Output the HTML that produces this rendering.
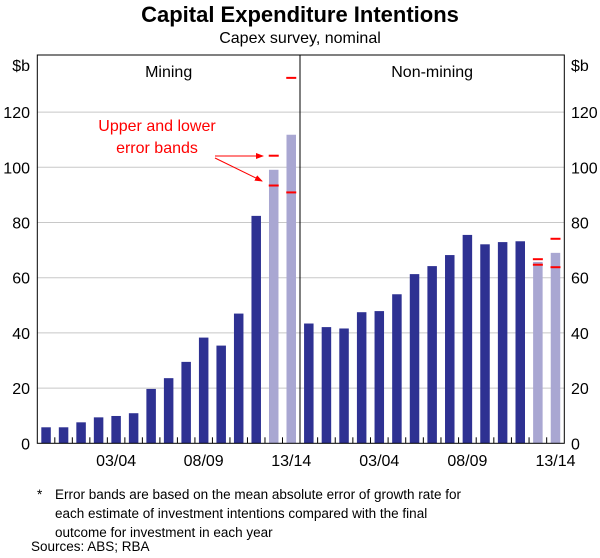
<!DOCTYPE html>
<html><head><meta charset="utf-8"><style>
body{margin:0;background:#fff;}
svg text{font-family:"Liberation Sans",Arial,sans-serif;}
</style></head><body>
<svg width="600" height="553" viewBox="0 0 600 553">
<text x="300" y="22" text-anchor="middle" font-size="22" font-weight="bold">Capital Expenditure Intentions</text>
<text x="300" y="43" text-anchor="middle" font-size="16">Capex survey, nominal</text>
<g id="grid"></g>
<g id="bars"></g>
<g id="frame"></g>
<g id="labels"></g>
<text x="157" y="131" text-anchor="middle" font-size="16" fill="#ff0000">Upper and lower</text>
<text x="157" y="153" text-anchor="middle" font-size="16" fill="#ff0000">error bands</text>
<defs><marker id="ah" markerWidth="8" markerHeight="6" refX="7" refY="3" orient="auto"><path d="M0,0 L8,3 L0,6 Z" fill="#ff0000"/></marker></defs>
<line x1="215" y1="156" x2="263" y2="156" stroke="#ff0000" stroke-width="1" marker-end="url(#ah)"/>
<line x1="215" y1="158" x2="262" y2="181" stroke="#ff0000" stroke-width="1" marker-end="url(#ah)"/>
<text x="37" y="499" font-size="13.5">*</text>
<text x="55" y="499" font-size="13.5">Error bands are based on the mean absolute error of growth rate for</text>
<text x="55" y="518" font-size="13.5">each estimate of investment intentions compared with the final</text>
<text x="55" y="537" font-size="13.5">outcome for investment in each year</text>
<text x="31" y="551" font-size="13.5">Sources: ABS; RBA</text>
</svg>
<script>
const yTicks=[0,20,40,60,80,100,120];
const xTickLabels=["03/04","08/09","13/14"];
const xTickIndex=[4,9,14];
const miningValues=[5.8,5.8,7.6,9.4,9.9,10.9,19.7,23.6,29.5,38.3,35.4,47.0,82.4,99.1,111.8];
const miningForecast=[false,false,false,false,false,false,false,false,false,false,false,false,false,true,true];
const miningUpper=[null,null,null,null,null,null,null,null,null,null,null,null,null,104.2,132.4];
const miningLower=[null,null,null,null,null,null,null,null,null,null,null,null,null,93.4,90.9];
const nonMiningValues=[43.4,42.1,41.6,47.5,47.9,54.0,61.3,64.2,68.2,75.5,72.1,72.9,73.2,65.7,69.0];
const nonMiningForecast=[false,false,false,false,false,false,false,false,false,false,false,false,false,true,true];
const nonMiningUpper=[null,null,null,null,null,null,null,null,null,null,null,null,null,66.7,74.1];
const nonMiningLower=[null,null,null,null,null,null,null,null,null,null,null,null,null,64.7,63.8];

const NS="http://www.w3.org/2000/svg";
const X0=37.3,XM=300,X1=564.3,Y0=443.3,YT=55,PX=2.76;
const y=v=>Y0-v*PX;
function mk(tag,attrs,parent,txt){const e=document.createElementNS(NS,tag);for(const k in attrs)e.setAttribute(k,attrs[k]);if(txt!=null)e.textContent=txt;document.getElementById(parent).appendChild(e);return e;}
yTicks.forEach(t=>{if(t>0){const g=mk('line',{x1:X0,x2:X1,y1:y(t),y2:y(t),stroke:'#c8c8c8','stroke-width':1},'grid');

}
const l=mk('text',{x:30,y:y(t)+6,'text-anchor':'end','font-size':16},'labels',String(t));


const r=mk('text',{x:571,y:y(t)+6,'text-anchor':'start','font-size':16},'labels',String(t));

});
const u1=mk('text',{x:30,y:71,'text-anchor':'end','font-size':16},'labels','$b');


const u2=mk('text',{x:571,y:71,'text-anchor':'start','font-size':16},'labels','$b');


function panel(px0,px1,vals,fc,up,lo,name,title){
 const n=vals.length,step=(px1-px0)/n,bw=9.5;
 vals.forEach((v,i)=>{const cx=px0+step*(i+0.5);
  const b=mk('rect',{x:cx-bw/2,y:y(v),width:bw,height:v*PX,fill:fc[i]?'#a9a7d2':'#2e3192'},'bars');
  
  
  if(up[i]!=null){const e=mk('line',{x1:cx-5,x2:cx+5,y1:y(up[i]),y2:y(up[i]),stroke:'#ff0000','stroke-width':2},'bars');
   
   }
  if(lo[i]!=null){const e=mk('line',{x1:cx-5,x2:cx+5,y1:y(lo[i]),y2:y(lo[i]),stroke:'#ff0000','stroke-width':2},'bars');
   
   }
  if(i>0){const t=mk('line',{x1:px0+step*i,x2:px0+step*i,y1:Y0,y2:Y0-6,stroke:'#000','stroke-width':1},'frame');
   
   }
 });
 xTickIndex.forEach((ix,j)=>{const l=mk('text',{x:px0+step*(ix+0.5),y:466,'text-anchor':'middle','font-size':16},'labels',xTickLabels[j]);
  
  });
 const tt=mk('text',{x:(px0+px1)/2,y:77,'text-anchor':'middle','font-size':16},'labels',title);
 
 
}
panel(X0,XM,miningValues,miningForecast,miningUpper,miningLower,'mining','Mining');
panel(XM,X1,nonMiningValues,nonMiningForecast,nonMiningUpper,nonMiningLower,'non-mining','Non-mining');
const fr=mk('rect',{x:X0,y:YT,width:X1-X0,height:Y0-YT,fill:'none',stroke:'#000','stroke-width':1},'frame');


const dv=mk('line',{x1:XM,x2:XM,y1:YT,y2:Y0,stroke:'#000','stroke-width':1},'frame');


</script>
</body></html>
